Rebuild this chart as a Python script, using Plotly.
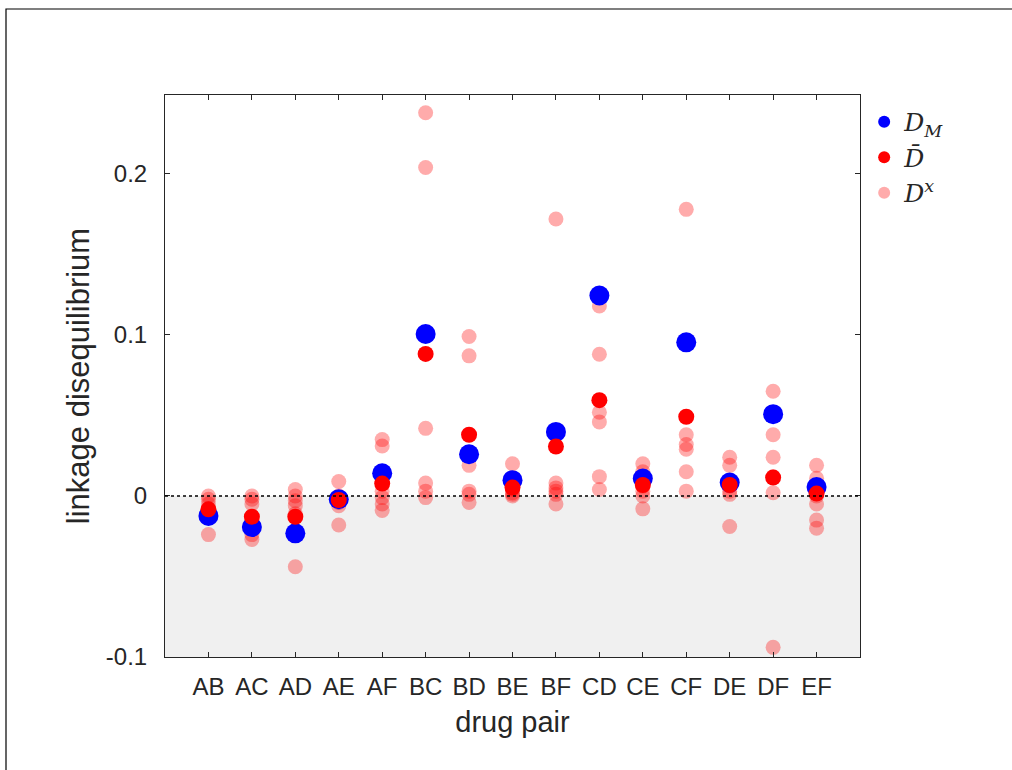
import plotly.graph_objects as go

pairs = ["AB", "AC", "AD", "AE", "AF", "BC", "BD", "BE", "BF", "CD", "CE", "CF", "DE", "DF", "EF"]

D_M = [-0.0124, -0.0193, -0.0232, -0.0020, 0.0141, 0.1006, 0.0259, 0.0098, 0.0398,
       0.1245, 0.0108, 0.0954, 0.0083, 0.0508, 0.0056]

D_bar = [-0.0083, -0.0129, -0.0129, -0.0025, 0.0077, 0.0882, 0.0380, 0.0052, 0.0307,
         0.0595, 0.0068, 0.0492, 0.0068, 0.0114, 0.0015]

D_x = [
    [0.000, -0.002, -0.005, -0.008, -0.012, -0.024],
    [0.000, -0.002, -0.005, -0.013, -0.024, -0.027],
    [0.004, 0.000, -0.003, -0.006, -0.011, -0.044],
    [0.009, 0.000, -0.002, -0.004, -0.006, -0.018],
    [0.035, 0.031, 0.003, -0.001, -0.005, -0.009],
    [0.238, 0.204, 0.042, 0.008, 0.003, -0.001],
    [0.099, 0.087, 0.019, 0.003, 0.001, -0.004],
    [0.020, 0.007, 0.004, 0.002, 0.001, 0.000],
    [0.172, 0.008, 0.005, 0.003, 0.001, -0.005],
    [0.118, 0.088, 0.052, 0.046, 0.012, 0.004],
    [0.020, 0.015, 0.006, 0.003, 0.000, -0.008],
    [0.178, 0.038, 0.032, 0.029, 0.015, 0.003],
    [0.024, 0.019, 0.006, 0.003, 0.001, -0.019],
    [0.065, 0.038, 0.024, 0.012, 0.002, -0.094],
    [0.019, 0.011, 0.000, -0.005, -0.015, -0.020],
]

xpos = list(range(1, len(pairs) + 1))
lx = [xpos[i] for i, vals in enumerate(D_x) for _ in vals]
ly = [v for vals in D_x for v in vals]

fig = go.Figure()
fig.add_trace(go.Scatter(
    x=lx, y=ly, mode="markers", name="<i>D</i><sup><i>x</i></sup>",
    marker=dict(size=15, color="rgba(255,0,0,0.33)", line=dict(width=0)),
    legendrank=3,
))
fig.add_trace(go.Scatter(
    x=xpos, y=D_M, mode="markers", name="<i>D</i><sub><i>M</i></sub>",
    marker=dict(size=20, color="#0000ff", line=dict(width=0)),
    legendrank=1,
))
fig.add_trace(go.Scatter(
    x=xpos, y=D_bar, mode="markers", name="<i>D\u0304</i>",
    marker=dict(size=16, color="#ff0000", line=dict(width=0)),
    legendrank=2,
))

# shaded negative region and dotted zero line
fig.add_shape(type="rect", xref="x", yref="y", x0=0, x1=16, y0=-0.1, y1=0,
              fillcolor="rgb(240,240,240)", line=dict(width=0), layer="below")
fig.add_shape(type="line", xref="x", yref="y", x0=0, x1=16, y0=0, y1=0,
              line=dict(color="black", width=1.5, dash="dot"), layer="above")

# outer figure frame
W, H = 1012, 770
L, R, T, B = 165, 152, 95, 113
pw, ph = W - L - R, H - T - B
def px(x):
    return (x - L) / pw
def py(y):
    return (H - B - y) / ph
fig.add_shape(type="rect", xref="paper", yref="paper",
              x0=px(6), x1=px(1016), y0=py(790), y1=py(9),
              line=dict(color="black", width=1.2), fillcolor="rgba(0,0,0,0)")

fig.update_layout(
    width=W, height=H,
    margin=dict(l=L, r=R, t=T, b=B),
    paper_bgcolor="white", plot_bgcolor="white",
    font=dict(family="Liberation Sans, Arial, sans-serif", size=24, color="#262626"),
    showlegend=True,
    legend=dict(x=1.006, y=0.993, xanchor="left", yanchor="top",
                font=dict(family="DejaVu Serif, serif", size=25, color="#262626"),
                bgcolor="rgba(0,0,0,0)", itemsizing="constant", tracegroupgap=0,
                itemwidth=30),
    xaxis=dict(range=[0, 16], tickmode="array", tickvals=xpos, ticktext=pairs,
               showgrid=False, zeroline=False, showline=True, mirror="ticks",
               linecolor="#262626", linewidth=1, ticks="inside", ticklen=5,
               tickcolor="#262626", tickfont=dict(size=24), ticklabelstandoff=8,
               title=dict(text="drug pair", font=dict(size=29), standoff=12)),
    yaxis=dict(range=[-0.1, 0.249], tickmode="array", tickvals=[-0.1, 0, 0.1, 0.2],
               ticktext=["-0.1", "0", "0.1", "0.2"],
               showgrid=False, zeroline=False, showline=True, mirror="ticks",
               linecolor="#262626", linewidth=1, ticks="inside", ticklen=5,
               tickcolor="#262626", tickfont=dict(size=24), ticklabelstandoff=12,
               title=dict(text="linkage disequilibrium", font=dict(size=31), standoff=6)),
)

fig.write_html("out.html")
